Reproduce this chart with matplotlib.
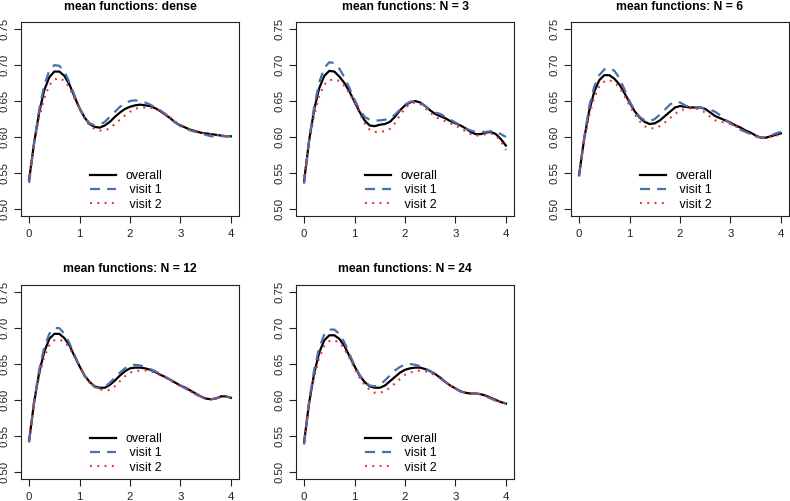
import numpy as np
import matplotlib
matplotlib.use("Agg")
import matplotlib.pyplot as plt
from matplotlib.lines import Line2D

plt.rcParams['font.family'] = ['Liberation Sans', 'DejaVu Sans']

# time grid (0 to 4 by 0.1)
t = [0.0, 0.1, 0.2, 0.3, 0.4, 0.5, 0.6, 0.7, 0.8, 0.9,
     1.0, 1.1, 1.2, 1.3, 1.4, 1.5, 1.6, 1.7, 1.8, 1.9,
     2.0, 2.1, 2.2, 2.3, 2.4, 2.5, 2.6, 2.7, 2.8, 2.9,
     3.0, 3.1, 3.2, 3.3, 3.4, 3.5, 3.6, 3.7, 3.8, 3.9, 4.0]

titles = ["mean functions: dense", "mean functions: N = 3", "mean functions: N = 6",
          "mean functions: N = 12", "mean functions: N = 24"]

# dense
dense_overall = [0.540, 0.592, 0.634, 0.665, 0.683, 0.691, 0.691, 0.685, 0.673, 0.656,
                 0.640, 0.627, 0.618, 0.614, 0.613, 0.616, 0.621, 0.628, 0.634, 0.639,
                 0.642, 0.644, 0.645, 0.644, 0.643, 0.640, 0.636, 0.631, 0.626, 0.620,
                 0.616, 0.613, 0.610, 0.608, 0.606, 0.605, 0.604, 0.603, 0.602, 0.601, 0.601]
dense_v1 = [0.536, 0.592, 0.638, 0.672, 0.692, 0.700, 0.699, 0.691, 0.676, 0.658,
            0.640, 0.627, 0.619, 0.616, 0.617, 0.621, 0.628, 0.635, 0.642, 0.647,
            0.650, 0.651, 0.650, 0.648, 0.645, 0.641, 0.637, 0.632, 0.626, 0.620,
            0.615, 0.612, 0.609, 0.607, 0.605, 0.603, 0.601, 0.601, 0.601, 0.601, 0.601]
dense_v2 = [0.545, 0.591, 0.627, 0.654, 0.672, 0.680, 0.682, 0.678, 0.668, 0.654,
            0.639, 0.626, 0.616, 0.611, 0.609, 0.609, 0.612, 0.618, 0.624, 0.630,
            0.635, 0.639, 0.641, 0.641, 0.641, 0.639, 0.636, 0.632, 0.627, 0.621,
            0.617, 0.613, 0.610, 0.608, 0.606, 0.605, 0.604, 0.603, 0.602, 0.601, 0.601]

# N = 3
n3_overall = [0.538, 0.595, 0.638, 0.668, 0.685, 0.692, 0.691, 0.684, 0.675, 0.663,
              0.649, 0.635, 0.623, 0.616, 0.615, 0.617, 0.618, 0.621, 0.628, 0.637,
              0.644, 0.648, 0.650, 0.648, 0.643, 0.637, 0.632, 0.629, 0.626, 0.622,
              0.619, 0.616, 0.612, 0.607, 0.604, 0.604, 0.606, 0.607, 0.604, 0.597, 0.588]
n3_v1 = [0.535, 0.596, 0.642, 0.676, 0.696, 0.704, 0.703, 0.695, 0.683, 0.668,
         0.652, 0.638, 0.628, 0.624, 0.623, 0.623, 0.624, 0.626, 0.631, 0.638,
         0.645, 0.649, 0.650, 0.648, 0.643, 0.638, 0.634, 0.632, 0.628, 0.624,
         0.620, 0.616, 0.612, 0.609, 0.607, 0.607, 0.607, 0.608, 0.607, 0.604, 0.600]
n3_v2 = [0.545, 0.592, 0.630, 0.657, 0.673, 0.679, 0.680, 0.678, 0.671, 0.661,
         0.648, 0.633, 0.619, 0.610, 0.607, 0.607, 0.608, 0.611, 0.619, 0.630,
         0.640, 0.646, 0.648, 0.646, 0.640, 0.634, 0.628, 0.625, 0.622, 0.619,
         0.616, 0.612, 0.608, 0.604, 0.602, 0.602, 0.604, 0.605, 0.602, 0.594, 0.582]

# N = 6
n6_overall = [0.547, 0.597, 0.636, 0.663, 0.679, 0.686, 0.686, 0.681, 0.673, 0.661,
              0.648, 0.636, 0.627, 0.621, 0.618, 0.619, 0.623, 0.629, 0.635, 0.641,
              0.643, 0.642, 0.641, 0.641, 0.641, 0.639, 0.634, 0.629, 0.626, 0.623,
              0.620, 0.616, 0.613, 0.609, 0.606, 0.602, 0.599, 0.599, 0.601, 0.603, 0.605]
n6_v1 = [0.545, 0.598, 0.642, 0.670, 0.686, 0.694, 0.696, 0.692, 0.682, 0.666,
         0.650, 0.637, 0.628, 0.623, 0.622, 0.625, 0.631, 0.638, 0.645, 0.649,
         0.648, 0.644, 0.641, 0.641, 0.641, 0.640, 0.638, 0.635, 0.630, 0.624,
         0.619, 0.614, 0.610, 0.607, 0.604, 0.601, 0.599, 0.599, 0.602, 0.605, 0.607]
n6_v2 = [0.550, 0.595, 0.630, 0.655, 0.670, 0.677, 0.679, 0.676, 0.669, 0.657,
         0.644, 0.632, 0.622, 0.615, 0.612, 0.612, 0.615, 0.620, 0.626, 0.632,
         0.637, 0.639, 0.640, 0.640, 0.638, 0.634, 0.628, 0.623, 0.621, 0.620,
         0.618, 0.615, 0.611, 0.607, 0.604, 0.601, 0.599, 0.599, 0.600, 0.602, 0.603]

# N = 12
n12_overall = [0.543, 0.597, 0.638, 0.667, 0.685, 0.692, 0.692, 0.686, 0.676, 0.661,
               0.647, 0.634, 0.625, 0.619, 0.617, 0.617, 0.621, 0.627, 0.634, 0.640,
               0.644, 0.645, 0.645, 0.644, 0.642, 0.639, 0.635, 0.632, 0.628, 0.624,
               0.620, 0.617, 0.613, 0.609, 0.605, 0.602, 0.601, 0.602, 0.605, 0.605, 0.603]
n12_v1 = [0.541, 0.598, 0.642, 0.673, 0.692, 0.700, 0.700, 0.692, 0.679, 0.663,
          0.647, 0.634, 0.625, 0.618, 0.616, 0.618, 0.624, 0.631, 0.638, 0.644,
          0.648, 0.649, 0.648, 0.646, 0.643, 0.640, 0.636, 0.632, 0.628, 0.624,
          0.620, 0.616, 0.612, 0.608, 0.605, 0.602, 0.601, 0.602, 0.604, 0.605, 0.603]
n12_v2 = [0.546, 0.596, 0.633, 0.660, 0.676, 0.683, 0.684, 0.681, 0.673, 0.660,
          0.646, 0.633, 0.624, 0.618, 0.615, 0.613, 0.614, 0.619, 0.626, 0.633,
          0.638, 0.640, 0.641, 0.641, 0.640, 0.638, 0.635, 0.631, 0.627, 0.623,
          0.619, 0.616, 0.612, 0.608, 0.604, 0.602, 0.601, 0.602, 0.604, 0.605, 0.602]

# N = 24
n24_overall = [0.541, 0.596, 0.637, 0.666, 0.683, 0.690, 0.690, 0.685, 0.675, 0.661,
               0.647, 0.634, 0.625, 0.619, 0.617, 0.617, 0.620, 0.626, 0.632, 0.638,
               0.642, 0.644, 0.645, 0.645, 0.643, 0.640, 0.636, 0.631, 0.625, 0.620,
               0.616, 0.612, 0.610, 0.609, 0.609, 0.608, 0.606, 0.603, 0.600, 0.597, 0.595]
n24_v1 = [0.538, 0.598, 0.642, 0.673, 0.691, 0.698, 0.698, 0.692, 0.680, 0.664,
          0.648, 0.635, 0.625, 0.620, 0.619, 0.621, 0.627, 0.634, 0.641, 0.646,
          0.649, 0.650, 0.649, 0.647, 0.644, 0.640, 0.635, 0.630, 0.625, 0.620,
          0.616, 0.612, 0.610, 0.609, 0.609, 0.608, 0.605, 0.602, 0.599, 0.597, 0.595]
n24_v2 = [0.545, 0.594, 0.632, 0.659, 0.675, 0.682, 0.683, 0.680, 0.671, 0.658,
          0.644, 0.631, 0.621, 0.614, 0.610, 0.610, 0.612, 0.617, 0.623, 0.629,
          0.635, 0.638, 0.640, 0.641, 0.640, 0.638, 0.634, 0.630, 0.625, 0.620,
          0.616, 0.612, 0.610, 0.609, 0.609, 0.608, 0.606, 0.603, 0.600, 0.598, 0.596]

overall = [dense_overall, n3_overall, n6_overall, n12_overall, n24_overall]
visit1 = [dense_v1, n3_v1, n6_v1, n12_v1, n24_v1]
visit2 = [dense_v2, n3_v2, n6_v2, n12_v2, n24_v2]

yticks = [0.50, 0.55, 0.60, 0.65, 0.70, 0.75]
xticks = [0, 1, 2, 3, 4]

blue = '#4a6fae'
red = '#e8302c'

W, H = 790, 501
fig = plt.figure(figsize=(W / 100, H / 100), dpi=100)

# panel boxes in pixels: (left, top)
lefts = [21, 296, 571, 21, 296]
tops = [22, 22, 22, 285, 285]
bw, bh = 218, 194

for i in range(5):
    ax = fig.add_axes([lefts[i] / W, 1 - (tops[i] + bh) / H, bw / W, bh / H])
    ax.plot(t, overall[i], color='black', lw=1.6)
    ax.plot(t, visit1[i], color=blue, lw=1.6, dashes=(4.5, 3.2))
    ax.plot(t, visit2[i], color=red, lw=1.5, dashes=(0.9, 2.6))
    ax.set_xlim(-0.16, 4.16)
    ax.set_ylim(0.49, 0.76)
    ax.set_xticks(xticks)
    ax.set_xticklabels([str(v) for v in xticks])
    ax.set_yticks(yticks)
    ax.set_yticklabels(['%.2f' % v for v in yticks], rotation=90, va='center')
    ax.tick_params(length=5, width=0.8, labelsize=8.2, colors='#222222', pad=3)
    ax.tick_params(axis='x', pad=4)
    for s in ax.spines.values():
        s.set_linewidth(0.8)
        s.set_color('#222222')
    ax.set_title(titles[i], fontsize=8.7, fontweight='bold', pad=9)

    handles = [Line2D([], [], color='black', lw=1.6),
               Line2D([], [], color=blue, lw=1.6, dashes=(4.5, 3.2)),
               Line2D([], [], color=red, lw=1.5, dashes=(0.9, 2.6))]
    ax.legend(handles, ['overall', ' visit 1', ' visit 2'], loc='lower left',
              bbox_to_anchor=(0.315, 0.028), frameon=False, fontsize=8.9,
              handlelength=2.1, handletextpad=0.8, labelspacing=0.18,
              borderpad=0, borderaxespad=0)

fig.savefig('out.png', dpi=100)
